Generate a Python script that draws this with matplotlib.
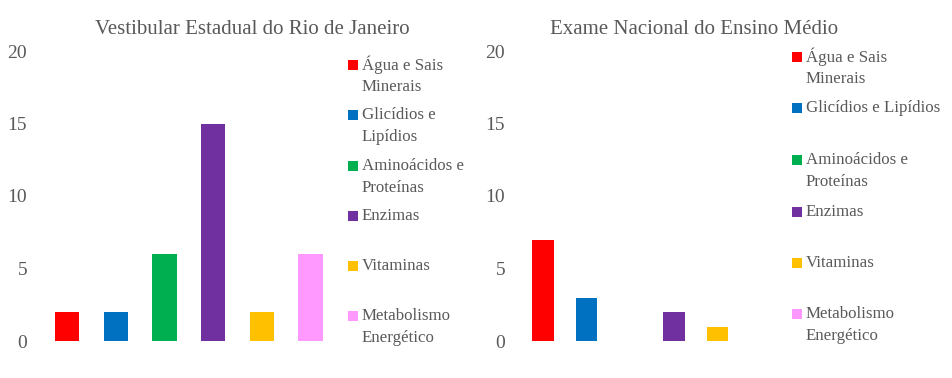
import matplotlib
matplotlib.use("Agg")
import matplotlib.pyplot as plt
from matplotlib.patches import Rectangle

W, H = 953, 378

titles = ["Vestibular Estadual do Rio de Janeiro", "Exame Nacional do Ensino Médio"]
labels_uerj = ["Água e Sais\nMinerais", "Glicídios e\nLipídios", "Aminoácidos e\nProteínas",
               "Enzimas", "Vitaminas", "Metabolismo\nEnergético"]
labels_enem = ["Água e Sais\nMinerais", "Glicídios e Lipídios", "Aminoácidos e\nProteínas",
               "Enzimas", "Vitaminas", "Metabolismo\nEnergético"]
values_uerj = [2, 2, 6, 15, 2, 6]
values_enem = [7, 3, 0, 2, 1, 0]
colors = ["#FF0000", "#0070C0", "#00B050", "#7030A0", "#FFC000", "#FF99FF"]
yticks = [0, 5, 10, 15, 20]

TEXT = "#595959"
plt.rcParams["font.family"] = ["Liberation Serif", "DejaVu Serif"]

fig = plt.figure(figsize=(W / 100, H / 100), dpi=100)


def px_axes(x0, y_top, x1, y_bot):
    return fig.add_axes([x0 / W, 1 - y_bot / H, (x1 - x0) / W, (y_bot - y_top) / H])


def legend(x_sq, first_line_y, labels):
    for lab, yc, col in zip(labels, first_line_y, colors):
        fig.add_artist(Rectangle((x_sq / W, 1 - (yc + 5) / H), 10 / W, 10 / H,
                                 transform=fig.transFigure, color=col, lw=0))
        for i, line in enumerate(lab.split("\n")):
            fig.text((x_sq + 14) / W, 1 - (yc + i * 22) / H, line, color=TEXT,
                     fontsize=12.2, va="center", ha="left")


panels = [
    (px_axes(43, 51, 335, 341), titles[0], values_uerj, labels_uerj, 348,
     [65, 115, 166, 216, 266, 316], 252),
    (px_axes(521, 51, 783, 341), titles[1], values_enem, labels_enem, 792,
     [57, 108, 160, 212, 263, 314], 694),
]

for ax, title, vals, labs, x_sq, ys, title_x in panels:
    ax.bar(range(len(vals)), vals, width=0.5, color=colors)
    ax.set_xlim(-0.5, len(vals) - 0.5)
    ax.set_ylim(0, 20)
    ax.set_yticks(yticks)
    ax.set_xticks([])
    ax.tick_params(axis="y", length=0, pad=11.5, labelsize=14, labelcolor=TEXT)
    for s in ax.spines.values():
        s.set_visible(False)
    fig.text(title_x / W, 1 - 29 / H, title, color=TEXT, fontsize=15,
             ha="center", va="center")
    legend(x_sq, ys, labs)

fig.savefig("out.png", dpi=100)
